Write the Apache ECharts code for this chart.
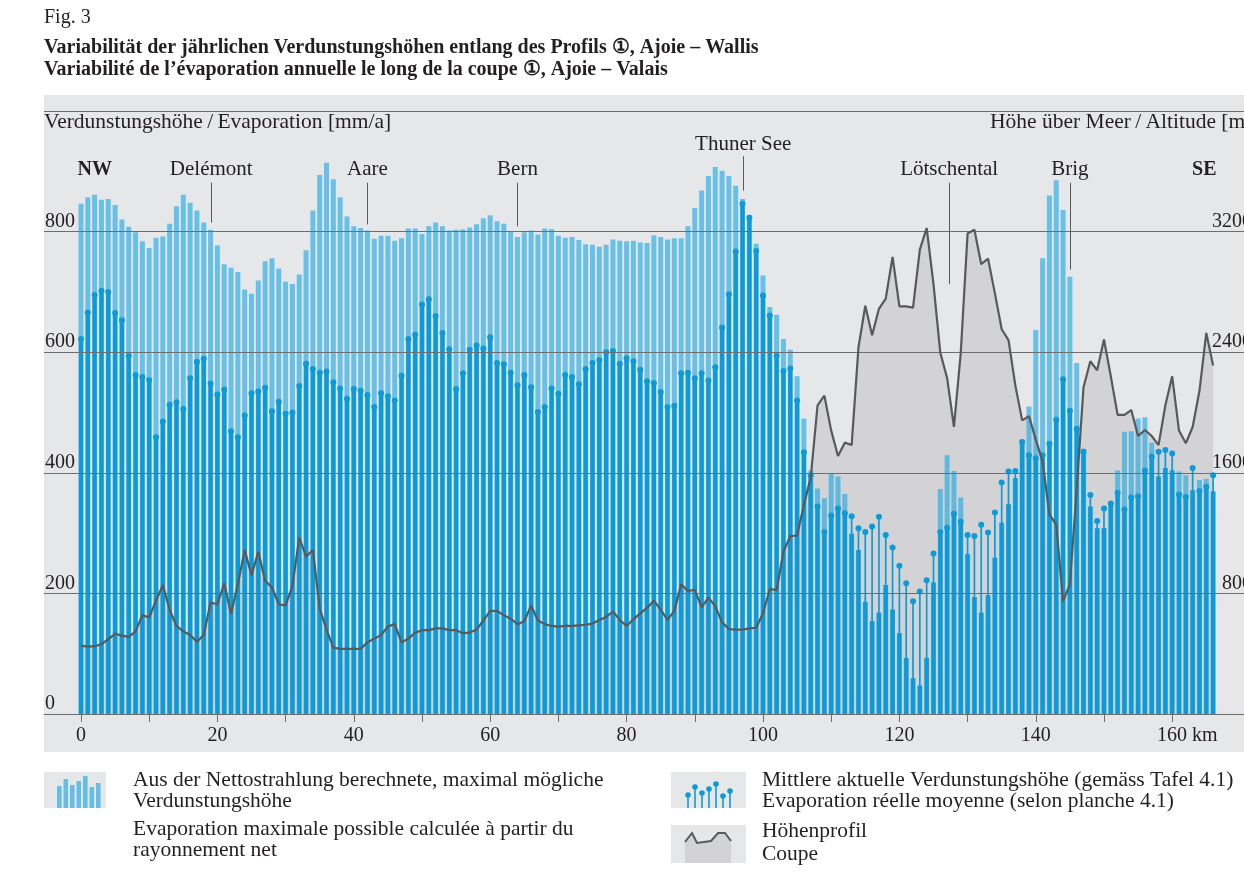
<!DOCTYPE html>
<html>
<head>
<meta charset="utf-8">
<title>Fig. 3 Verdunstung Profil 1</title>
<script src="https://cdn.jsdelivr.net/npm/echarts@6.0.0/dist/echarts.min.js"></script>
<style>
  html, body { margin: 0; padding: 0; background: #fff; }
  #main { width: 1244px; height: 882px; }
</style>
</head>
<body>
<div id="main"></div>
<script>
/* one value per km along the profile, km 0 .. 166 */
var maxEvap = [846,857,861,853,854,844,820,808,799,784,
  773,790,792,813,842,861,848,835,815,803,
  777,746,740,733,704,697,719,751,756,739,
  717,713,729,769,835,894,914,887,857,825,
  809,806,802,788,793,793,785,789,805,805,
  796,809,815,809,802,803,804,807,812,822,
  827,817,813,801,791,799,802,795,805,804,
  793,790,791,786,779,778,775,778,787,785,
  784,785,782,781,794,791,787,789,789,809,
  839,868,892,907,901,892,876,854,827,780,
  727,675,662,622,604,560,490,404,374,358,
  398,394,365,299,272,186,154,168,214,173,
  134,93,59,47,93,218,373,429,403,359,
  265,194,168,197,259,317,348,391,455,510,
  637,756,860,885,836,725,582,440,344,308,
  308,347,404,468,469,490,492,450,394,408,
  404,402,396,371,388,390,369];

var realEvap = [622,666,695,702,700,665,653,594,562,559,
  554,459,485,513,517,506,557,584,589,548,
  530,538,469,459,495,532,535,541,502,518,
  498,500,544,581,572,566,568,550,540,523,
  539,536,529,509,532,527,520,561,622,629,
  679,688,660,632,605,539,565,604,611,606,
  625,582,580,566,545,562,542,501,509,540,
  531,562,559,547,572,582,587,600,602,581,
  590,585,571,552,549,534,509,511,565,566,
  557,565,553,575,641,696,767,846,823,768,
  694,661,594,569,573,520,434,396,344,302,
  329,341,333,328,308,302,311,327,297,276,
  246,217,187,203,222,266,302,309,332,319,
  297,295,314,301,334,384,402,403,451,429,
  424,429,448,488,555,503,473,435,363,320,
  341,349,367,339,359,361,404,427,435,438,
  432,364,360,408,370,377,396];

/* Höhe über Meer [m] */
var altitude = [452,448,448,464,496,532,520,512,548,656,
  640,752,856,692,584,548,524,480,524,740,
  728,868,664,860,1088,920,1076,884,840,728,
  720,848,1172,1044,1088,700,560,440,432,432,
  432,432,476,500,524,580,596,476,500,540,
  556,556,568,568,556,556,536,540,560,620,
  684,684,656,632,596,616,720,620,596,584,
  580,584,584,588,592,600,624,644,680,624,
  584,628,668,704,752,692,624,684,860,816,
  824,708,772,716,608,564,560,560,568,572,
  668,828,824,1076,1180,1184,1388,1568,2048,2112,
  1880,1712,1800,1784,2432,2708,2512,2688,2756,3032,
  2704,2704,2696,3080,3224,2852,2396,2228,1904,2396,
  3188,3212,2984,3020,2792,2552,2480,2180,1948,1976,
  1820,1676,1324,1256,748,860,1496,2168,2340,2280,
  2484,2240,1984,1984,2016,1844,1884,1844,1784,2048,
  2240,1880,1796,1904,2144,2528,2312];

var kmTicks = [0,10,20,30,40,50,60,70,80,90,100,110,120,130,140,150,160];
var kmLabels = [0,20,40,60,80,100,120,140,160];
var evapLabels = [0,200,400,600,800];
var altLabels = [800,1600,2400,3200];

var placeNames = ['Delémont','Aare','Bern','Thuner See','Lötschental','Brig'];
var placeKm = [19.1,42.0,64.0,97.1,127.3,145.0];

var page = {
  init: function () {
    this.echarts();
  },
  echarts: function () {
    var myChart = echarts.init(document.getElementById('main'));
    var serif = '"Liberation Serif", "Times New Roman", serif';
    var ink = '#231f20';
    var gridGray = '#6d6e70';
    var blue = '#0d9bd7';

    var light = [], dark = [], stem = [], alt = [];
    for (var i = 0; i < maxEvap.length; i++) {
      light.push([i, maxEvap[i]]);
      dark.push([i, Math.min(maxEvap[i], realEvap[i])]);
      stem.push([i, realEvap[i]]);
      alt.push([i, altitude[i]]);
    }

    /* label heights and leader line ends, in mm/a */
    var labelY = [903, 903, 903, 945, 903, 903];
    var leadTop = [881, 881, 881, 925, 881, 881];
    var leadFoot = [815, 812, 809, 868, 713, 737];
    var places = [], leads = [];
    for (var p = 0; p < placeNames.length; p++) {
      places.push({ name: placeNames[p], value: [placeKm[p], labelY[p]] });
      leads.push([{ coord: [placeKm[p], leadTop[p]] }, { coord: [placeKm[p], leadFoot[p]] }]);
    }
    places.push({ name: 'NW', value: [-0.5, 903], label: { align: 'left', fontWeight: 'bold', fontSize: 20 } });
    places.push({ name: 'SE', value: [164.7, 903], label: { fontWeight: 'bold', fontSize: 20 } });

    function kmAxis(visible) {
      return {
        type: 'value', min: -5.425, max: 170.53, show: visible,
        splitLine: { show: false },
        axisLine: { show: true, lineStyle: { color: gridGray, width: 1 } },
        axisTick: { show: true, customValues: kmTicks, length: 8, lineStyle: { color: gridGray } },
        axisLabel: {
          show: true, customValues: kmLabels, margin: 12,
          fontFamily: serif, fontSize: 20, color: ink,
          formatter: function (v) { return v === 160 ? '{s|}160 km' : String(v); },
          rich: { s: { width: 30 } }
        }
      };
    }

    function textEl(x, y, str, bold, size) {
      return {
        type: 'text', x: x, y: y, silent: true,
        style: { text: str, fill: ink, font: (bold ? 'bold ' : '') + (size || 21.5) + 'px ' + serif, verticalAlign: 'middle' }
      };
    }
    function rectEl(x, y, w, h, fill) {
      return { type: 'rect', silent: true, shape: { x: x, y: y, width: w, height: h }, style: { fill: fill } };
    }

    /* legend glyphs */
    var glyphBars = [786, 779, 785, 781, 776, 787, 783];
    var glyphPins = [795, 787, 793, 789, 784, 796, 791];
    var keyEls = [rectEl(44, 772, 62, 36, '#e6e7e9'), rectEl(671, 772, 75, 36, '#e6e7e9'), rectEl(671, 825, 75, 38, '#e6e7e9')];
    for (var g = 0; g < 7; g++) {
      keyEls.push(rectEl(57 + g * 6.5, glyphBars[g], 4.6, 808 - glyphBars[g], '#64bee6'));
      var px = 688 + g * 7;
      keyEls.push(rectEl(px - 0.8, glyphPins[g], 1.6, 808 - glyphPins[g], blue));
      keyEls.push({ type: 'circle', silent: true, shape: { cx: px, cy: glyphPins[g], r: 2.8 }, style: { fill: blue } });
    }
    keyEls.push({ type: 'polygon', silent: true,
      shape: { points: [[685, 842], [692, 833], [697, 843], [711, 841], [718, 833], [725, 833], [731, 841], [731, 863], [685, 863]] },
      style: { fill: '#d3d3d5' } });
    keyEls.push({ type: 'polyline', silent: true,
      shape: { points: [[685, 842], [692, 833], [697, 843], [711, 841], [718, 833], [725, 833], [731, 841]] },
      style: { stroke: '#58595b', lineWidth: 2, fill: null } });

    var option = {
      animation: false,
      backgroundColor: '#ffffff',
      textStyle: { fontFamily: serif },
      graphic: [
        { type: 'rect', z: -10, silent: true, shape: { x: 44, y: 95, width: 1200, height: 657 }, style: { fill: '#e6e7e9' } },
        textEl(44, 18, 'Fig. 3', false, 20),
        textEl(44, 48, 'Variabilität der jährlichen Verdunstungshöhen entlang des Profils \u2460, Ajoie \u2013 Wallis', true, 20),
        textEl(44, 70, 'Variabilité de l\u2019évaporation annuelle le long de la coupe \u2460, Ajoie \u2013 Valais', true, 20),
        textEl(44, 122, 'Verdunstungshöhe\u2009/\u2009Evaporation [mm/a]'),
        textEl(990, 122, 'Höhe über Meer\u2009/\u2009Altitude [m]'),
        textEl(133, 780, 'Aus der Nettostrahlung berechnete, maximal mögliche'),
        textEl(133, 801, 'Verdunstungshöhe'),
        textEl(133, 829, 'Evaporation maximale possible calculée à partir du'),
        textEl(133, 850, 'rayonnement net'),
        textEl(762, 780, 'Mittlere aktuelle Verdunstungshöhe (gemäss Tafel 4.1)'),
        textEl(762, 801, 'Evaporation réelle moyenne (selon planche 4.1)'),
        textEl(762, 831, 'Höhenprofil'),
        textEl(762, 854, 'Coupe')
      ].concat(keyEls),
      grid: { left: 44, right: 0, top: 111, bottom: 168, containLabel: false, outerBoundsMode: 'none' },
      xAxis: [kmAxis(true), kmAxis(false), kmAxis(false)],
      yAxis: [
        {
          type: 'value', min: 0, max: 1000, interval: 200, position: 'left', z: 6,
          axisLine: { show: false }, axisTick: { show: false },
          splitLine: { show: true, lineStyle: { color: gridGray, width: 1 } },
          axisLabel: { inside: true, margin: 1, verticalAlign: 'bottom', customValues: evapLabels,
            fontFamily: serif, fontSize: 20, color: ink }
        },
        {
          type: 'value', min: 0, max: 4000, interval: 800, position: 'right', offset: 9, z: 6,
          axisLine: { show: false }, axisTick: { show: false }, splitLine: { show: false },
          axisLabel: { inside: true, margin: 1, verticalAlign: 'bottom', customValues: altLabels,
            fontFamily: serif, fontSize: 20, color: ink,
            formatter: function (v) { return String(v); } }
        }
      ],
      series: [
        {
          name: 'Höhenprofil Fläche', type: 'line', data: alt, xAxisIndex: 0, yAxisIndex: 1,
          symbol: 'none', z: 1, silent: true,
          lineStyle: { width: 0 }, areaStyle: { color: '#d3d3d5', opacity: 1 }
        },
        {
          name: 'maximal', type: 'bar', data: light, xAxisIndex: 0, barWidth: 5, z: 2,
          itemStyle: { color: 'rgba(20,166,228,0.6)' }
        },
        {
          name: 'aktuell', type: 'bar', data: dark, xAxisIndex: 1, barWidth: 4.3, z: 3,
          itemStyle: { color: blue }
        },
        {
          name: 'aktuell Stiel', type: 'bar', data: stem, xAxisIndex: 2, barWidth: 1.7, z: 3,
          itemStyle: { color: blue }
        },
        {
          name: 'aktuell Punkt', type: 'scatter', data: stem, xAxisIndex: 0, symbolSize: 6, z: 4,
          itemStyle: { color: blue, opacity: 1 }
        },
        {
          name: 'Höhenprofil', type: 'line', data: alt, xAxisIndex: 0, yAxisIndex: 1,
          symbol: 'none', z: 7, silent: true,
          lineStyle: { color: '#58595b', width: 2.2 }
        },
        {
          name: 'Orte', type: 'scatter', data: places, xAxisIndex: 0, symbolSize: 0, z: 8, silent: true,
          itemStyle: { opacity: 1 },
          label: { show: true, position: 'inside', formatter: '{b}', fontFamily: serif, fontSize: 21,
            color: ink, opacity: 1 },
          markLine: {
            silent: true, symbol: ['none', 'none'], label: { show: false },
            lineStyle: { color: '#58595b', width: 1, type: 'solid', opacity: 1 },
            data: leads
          }
        }
      ]
    };
    myChart.setOption(option);
  }
};
page.init();
</script>
</body>
</html>
